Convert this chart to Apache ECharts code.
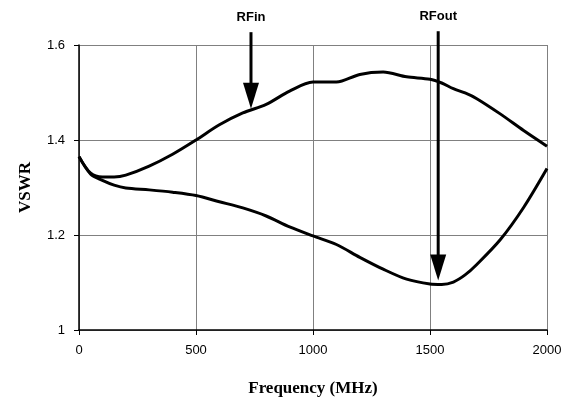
<!DOCTYPE html>
<html>
<head>
<meta charset="utf-8">
<script src="https://cdn.jsdelivr.net/npm/echarts@6/dist/echarts.min.js"></script>
<style>
  html, body { margin: 0; padding: 0; background: #fff; }
  #main { width: 574px; height: 402px; }
</style>
</head>
<body>
<div id="main"></div>
<script>
// frequency points (MHz)
var freq = [0, 50, 100, 150, 200, 300, 400, 500, 600, 700, 800, 900, 1000,
  1100, 1200, 1300, 1400, 1500, 1550, 1600, 1650, 1700, 1800, 1900, 2000];
// RFin VSWR
var rfin = [1.365, 1.330, 1.322, 1.322, 1.326, 1.345, 1.370, 1.400, 1.432, 1.457, 1.475, 1.503, 1.522,
  1.522, 1.538, 1.543, 1.533, 1.528, 1.520, 1.508, 1.499, 1.487, 1.455, 1.420, 1.387];
// RFout VSWR
var rfout = [1.365, 1.328, 1.315, 1.305, 1.299, 1.295, 1.290, 1.283, 1.270, 1.257, 1.240, 1.217, 1.198,
  1.180, 1.153, 1.128, 1.107, 1.097, 1.096, 1.101, 1.116, 1.138, 1.190, 1.258, 1.340];
// arrow annotations: [label, freq, top value, tip value]
var arrowIn = ['RFin', 735, 1.627, 1.466];
var arrowOut = ['RFout', 1535, 1.629, 1.104];

var axisFont = 'Liberation Sans, Arial, sans-serif';
var titleFont = 'Liberation Serif, Times New Roman, serif';

function pairs(xs, ys) {
  var out = [];
  for (var i = 0; i < xs.length; i++) {
    out.push([xs[i], ys[i]]);
  }
  return out;
}

var chart = echarts.init(document.getElementById('main'));
chart.setOption({
  backgroundColor: '#fff',
  animation: false,
  grid: { left: 79, right: 27, top: 45, bottom: 69 },
  xAxis: {
    type: 'value',
    min: 0,
    max: 2000,
    interval: 500,
    name: 'Frequency (MHz)',
    nameLocation: 'middle',
    nameGap: 50,
    nameTextStyle: { fontFamily: titleFont, fontWeight: 'bold', fontSize: 17, color: '#000' },
    axisLine: { lineStyle: { color: '#000', width: 1.5 } },
    axisTick: { show: true, length: 5, lineStyle: { color: '#000' } },
    axisLabel: {
      margin: 14, fontFamily: axisFont, fontSize: 13, color: '#000',
      formatter: function (v) { return String(v); }
    },
    splitLine: { show: true, lineStyle: { color: '#808080', width: 1 } }
  },
  yAxis: {
    type: 'value',
    min: 1,
    max: 1.6,
    interval: 0.2,
    name: 'VSWR',
    nameLocation: 'middle',
    nameGap: 45,
    nameTextStyle: { fontFamily: titleFont, fontWeight: 'bold', fontSize: 17, color: '#000' },
    axisLine: { show: true, lineStyle: { color: '#000', width: 1.5 } },
    axisTick: { show: true, length: 5, lineStyle: { color: '#000' } },
    axisLabel: { margin: 14, fontFamily: axisFont, fontSize: 13, color: '#000' },
    splitLine: { show: true, lineStyle: { color: '#808080', width: 1 } }
  },
  series: [
    {
      name: 'RFin',
      type: 'line',
      data: pairs(freq, rfin),
      smooth: 0.3,
      showSymbol: false,
      lineStyle: { color: '#000', width: 3 }
    },
    {
      name: 'RFout',
      type: 'line',
      data: pairs(freq, rfout),
      smooth: 0.3,
      showSymbol: false,
      lineStyle: { color: '#000', width: 3 }
    }
  ]
});

// arrows sit partly above the plot, so draw them as graphics placed through the axes
function arrowGraphic(a) {
  var top = chart.convertToPixel({ gridIndex: 0 }, [a[1], a[2]]);
  var tip = chart.convertToPixel({ gridIndex: 0 }, [a[1], a[3]]);
  var headH = 26, headW = 16;
  return [
    {
      type: 'line',
      shape: { x1: top[0], y1: top[1], x2: tip[0], y2: tip[1] - headH + 2 },
      style: { stroke: '#000', lineWidth: 3 },
      silent: true
    },
    {
      type: 'polygon',
      shape: { points: [[tip[0] - headW / 2, tip[1] - headH], [tip[0] + headW / 2, tip[1] - headH], [tip[0], tip[1]]] },
      style: { fill: '#000' },
      silent: true
    },
    {
      type: 'text',
      x: top[0],
      y: top[1] - 8,
      style: {
        text: a[0],
        fill: '#000',
        font: 'bold 13px ' + axisFont,
        align: 'center',
        verticalAlign: 'bottom'
      },
      silent: true
    }
  ];
}

chart.setOption({
  graphic: arrowGraphic(arrowIn).concat(arrowGraphic(arrowOut))
});
</script>
</body>
</html>
